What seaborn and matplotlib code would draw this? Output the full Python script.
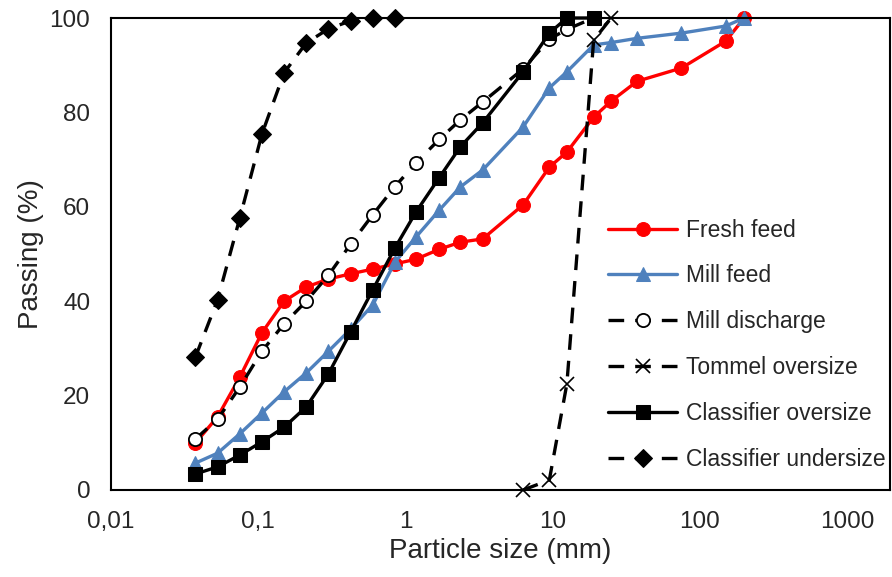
import matplotlib
matplotlib.use("Agg")
import matplotlib.pyplot as plt
import matplotlib.ticker as mticker
import seaborn as sns
import numpy as np
import pandas as pd

sns.set_style("white")
plt.rcParams['font.family'] = ['Liberation Sans', 'DejaVu Sans']

# ---- data ----
sizes = [0.0375, 0.053, 0.075, 0.106, 0.15, 0.212, 0.3, 0.425, 0.6, 0.85, 1.18,
         1.7, 2.36, 3.35, 6.3, 9.5, 12.5, 19, 25, 37.5, 75, 150, 200]
fresh_feed = [10.0, 15.5, 23.9, 33.3, 40.0, 43.0, 44.7, 45.8, 46.8, 47.9, 48.9,
              51.0, 52.5, 53.2, 60.4, 68.4, 71.6, 79.0, 82.4, 86.6, 89.4, 95.1, 100]
mill_feed = [5.7, 7.8, 11.9, 16.3, 20.8, 24.8, 29.4, 34.1, 39.2, 48.3, 53.6,
             59.3, 64.2, 67.8, 76.9, 85.2, 88.6, 94.3, 94.8, 95.7, 96.8, 98.3, 100]

discharge_sizes = [0.0375, 0.053, 0.075, 0.106, 0.15, 0.212, 0.3, 0.425, 0.6, 0.85,
                   1.18, 1.7, 2.36, 3.35, 6.3, 9.5, 12.5, 19]
mill_discharge = [10.8, 15.0, 21.8, 29.4, 35.2, 40.0, 45.5, 52.1, 58.3, 64.3,
                  69.3, 74.3, 78.4, 82.2, 89.2, 95.5, 97.6, 100]

tommel_sizes = [6.3, 9.5, 12.5, 19, 25]
tommel_oversize = [0.0, 2.1, 22.5, 95.3, 100]

classifier_sizes = [0.0375, 0.053, 0.075, 0.106, 0.15, 0.212, 0.3, 0.425, 0.6, 0.85,
                    1.18, 1.7, 2.36, 3.35, 6.3, 9.5, 12.5, 19]
classifier_oversize = [3.4, 4.9, 7.4, 10.2, 13.3, 17.6, 24.6, 33.5, 42.4, 51.3,
                       58.9, 66.2, 72.7, 77.8, 88.6, 96.8, 100, 100]

undersize_sizes = [0.0375, 0.053, 0.075, 0.106, 0.15, 0.212, 0.3, 0.425, 0.6, 0.85]
classifier_undersize = [28.2, 40.3, 57.6, 75.4, 88.4, 94.7, 97.7, 99.4, 100, 100]

x_tick_values = [0.01, 0.1, 1, 10, 100, 1000]
x_tick_labels = ["0,01", "0,1", "1", "10", "100", "1000"]
y_tick_values = [0, 20, 40, 60, 80, 100]

# ---- figure ----
fig = plt.figure(figsize=(8.92, 5.77), dpi=100)
ax = fig.add_axes([0.1244, 0.1508, 0.8734, 0.818])

dash = (0, (4.7, 3.3))
series = [
    ("Fresh feed", sizes, fresh_feed,
     dict(color="#FF0000", marker="o", markersize=10, markerfacecolor="#FF0000",
          markeredgecolor="#FF0000", linewidth=2.4, linestyle="-")),
    ("Mill feed", sizes, mill_feed,
     dict(color="#4F81BD", marker="^", markersize=10, markerfacecolor="#4F81BD",
          markeredgecolor="#4F81BD", linewidth=2.4, linestyle="-")),
    ("Mill discharge", discharge_sizes, mill_discharge,
     dict(color="black", marker="o", markersize=9.5, markerfacecolor="white",
          markeredgecolor="black", markeredgewidth=1.3, linewidth=2.4, linestyle=dash)),
    ("Tommel oversize", tommel_sizes, tommel_oversize,
     dict(color="black", marker="x", markersize=10, markeredgecolor="black",
          markeredgewidth=1.2, linewidth=2.4, linestyle=dash)),
    ("Classifier oversize", classifier_sizes, classifier_oversize,
     dict(color="black", marker="s", markersize=10, markerfacecolor="black",
          markeredgecolor="black", linewidth=2.4, linestyle="-")),
    ("Classifier undersize", undersize_sizes, classifier_undersize,
     dict(color="black", marker="D", markersize=9, markerfacecolor="black",
          markeredgecolor="black", linewidth=2.4, linestyle=dash)),
]

for name, xs, ys, kw in series:
    df = pd.DataFrame({"size": xs, "passing": ys})
    sns.lineplot(data=df, x="size", y="passing", ax=ax, label=name, sort=False,
                 clip_on=False, **kw)

ax.set_xscale("log")
ax.set_xlim(0.01, 10 ** 3.292)
ax.set_ylim(0, 100)

ax.xaxis.set_major_locator(mticker.FixedLocator(x_tick_values))
ax.xaxis.set_major_formatter(mticker.FixedFormatter(x_tick_labels))
ax.xaxis.set_minor_locator(mticker.LogLocator(base=10, subs=np.arange(2, 10)))
ax.xaxis.set_minor_formatter(mticker.NullFormatter())
ax.yaxis.set_major_locator(mticker.FixedLocator(y_tick_values))
ax.yaxis.set_minor_locator(mticker.MultipleLocator(10))

ax.tick_params(axis="both", which="both", direction="in", color="black",
               width=1.2, top=False, right=False, labelsize=17.5)
ax.tick_params(axis="both", which="major", length=6, pad=15)
ax.tick_params(axis="both", which="minor", length=5)

for s in ax.spines.values():
    s.set_color("black")
    s.set_linewidth(1.5)
    s.set_visible(True)

ax.set_xlabel("Particle size (mm)", fontsize=20, labelpad=4)
ax.set_ylabel("Passing (%)", fontsize=20, labelpad=4)

leg = ax.legend(loc="lower left", bbox_to_anchor=(0.618, 0.006), frameon=False,
                fontsize=16.5, handlelength=3.0, handletextpad=0.4,
                labelspacing=1.0, borderaxespad=0.3)

fig.savefig("out.png", dpi=100)
